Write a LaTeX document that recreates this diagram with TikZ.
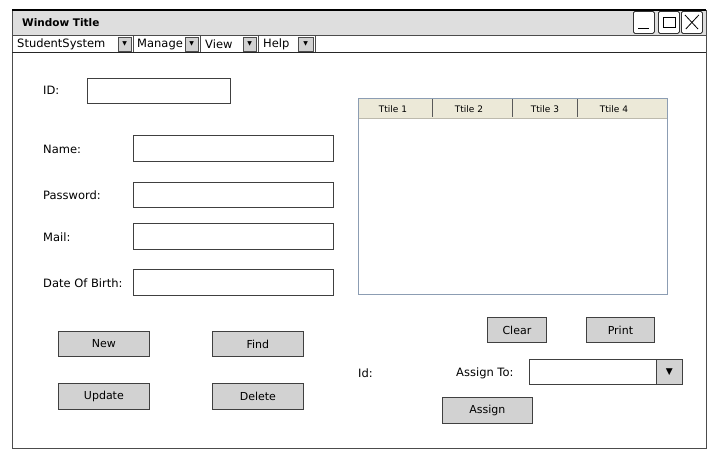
\documentclass[tikz,border=0pt]{standalone}
\usepackage{fontspec}
\setmainfont{DejaVu Sans}
\usetikzlibrary{positioning}
\usetikzlibrary{shapes}
\definecolor{barGray}{HTML}{DEDEDE}
\definecolor{btnGray}{HTML}{D2D2D2}
\definecolor{headBeige}{HTML}{ECE9D8}
\definecolor{gridBlue}{HTML}{8C9DB3}
\tikzset{
  field/.style={draw=black!75, thick, fill=white, anchor=north west, inner sep=0pt, minimum height=25pt},
  btnbox/.style={field, fill=btnGray, font=\fontsize{11}{13}\selectfont},
  arrowbox/.style={draw=black!70, fill=btnGray, anchor=north west, inner sep=0pt, minimum width=13pt, minimum height=14pt, font=\fontsize{6}{7}\selectfont},
  winbtn/.style={draw=black!80, thick, fill=white, rounded corners=1.5pt, anchor=north west, inner sep=0pt, minimum width=21pt, minimum height=22pt},
  fieldlbl/.style={anchor=west, inner sep=0pt, font=\fontsize{11.5}{13}\selectfont},
  coltitle/.style={inner sep=0pt, font=\fontsize{9}{10}\selectfont}
}

\begin{document}
\begin{tikzpicture}[x=1pt, y=-1pt]
\useasboundingbox (0,0) rectangle (715,459);
\begin{scope}
  \fill[white] (0,0) rectangle (715,459);
  \fill[barGray] (12,10) rectangle (706,35);
  \draw[thick, draw=black!70] (12,10) rectangle (706,448);
  \draw[very thick] (12,10) -- (706,10);
  \draw[black!70] (12,35) -- (706,35);
  \draw[black!85] (12,52) -- (706,52);
  \foreach \x in {133, 200, 258, 315}
    \draw[black!70] (\x,36) -- (\x,52);
\end{scope}

\begin{scope}
  \node[anchor=west, inner sep=0pt, font=\bfseries\fontsize{10.5}{12}\selectfont] (title) at (22,23) {Window Title};
  \node[winbtn] (minBtn) at (633,11) {};
  \node[winbtn] (maxBtn) at (658,11) {};
  \node[winbtn] (closeBtn) at (681,11) {};
  \draw[thick] (minBtn.south west) ++(5,-5) -- ++(11,0);
  \draw[thick] (maxBtn.center) ++(-6,-5) rectangle ++(12,10);
  \draw[thick] (closeBtn.north west) ++(4,4) -- ++(13,14);
  \draw[thick] (closeBtn.north east) ++(-4,4) -- ++(-13,14);
\end{scope}

\begin{scope}[every node/.style={anchor=west, inner sep=0pt, font=\fontsize{11.5}{13}\selectfont}]
  \node (menuStudent) at (17,44) {StudentSystem};
  \node (menuManage) at (137,44) {Manage};
  \node (menuView) at (205,44) {View};
  \node (menuHelp) at (263,44) {Help};
\end{scope}

\begin{scope}
  \node[arrowbox] (arrStudent) at (118,37) {▼};
  \node[arrowbox] (arrManage) at (185,37) {▼};
  \node[arrowbox] (arrView) at (243,37) {▼};
  \node[arrowbox, minimum width=15pt] (arrHelp) at (298,37) {▼};
\end{scope}

\begin{scope}
  \node[fieldlbl] (idLbl) at (43,90) {ID:};
  \node[fieldlbl] (nameLbl) at (43,149) {Name:};
  \node[fieldlbl] (passLbl) at (43,195) {Password:};
  \node[fieldlbl] (mailLbl) at (43,237) {Mail:};
  \node[fieldlbl] (birthLbl) at (43,283) {Date Of Birth:};
  \node[fieldlbl] (idSmallLbl) at (358,373) {Id:};
  \node[fieldlbl] (assignLbl) at (456,373) {Assign To:};
\end{scope}

\begin{scope}
  \node[field, minimum width=143pt] (idBox) at (87,78) {};
  \node[field, minimum width=200pt, minimum height=26pt] (nameBox) at (133,135) {};
  \node[field, minimum width=200pt] (passBox) at (133,182) {};
  \node[field, minimum width=200pt, minimum height=26pt] (mailBox) at (133,223) {};
  \node[field, minimum width=200pt, minimum height=26pt] (birthBox) at (133,269) {};
  \node[field, minimum width=153pt] (assignBox) at (529,359) {};
  \node[btnbox, minimum width=26pt, font=\fontsize{9}{10}\selectfont] (assignArr) at (656,359) {▼};
\end{scope}

\begin{scope}
  \node[draw=gridBlue, fill=white, anchor=north west, inner sep=0pt, minimum width=309pt, minimum height=196pt] (table) at (358,98) {};
  \node[fill=headBeige, anchor=north west, inner sep=0pt, minimum width=308pt, minimum height=19pt] (tableHead) at (358.5,98.5) {};
  \draw[headBeige!80!black] (tableHead.south west) -- (tableHead.south east);
  \foreach \x in {432, 512, 577}
    \draw[thick, black!65] (\x,99) -- (\x,117);
  \node[coltitle] (col1) at (393,109) {Ttile 1};
  \node[coltitle] (col2) at (469,109) {Ttile 2};
  \node[coltitle] (col3) at (545,109) {Ttile 3};
  \node[coltitle] (col4) at (614,109) {Ttile 4};
\end{scope}

\begin{scope}
  \node[btnbox, minimum width=91pt] (newBtn) at (58,331) {New};
  \node[btnbox, minimum width=91pt] (findBtn) at (212,331) {Find};
  \node[btnbox, minimum width=91pt, minimum height=26pt] (updateBtn) at (58,383) {Update};
  \node[btnbox, minimum width=91pt, minimum height=26pt] (deleteBtn) at (212,383) {Delete};
  \node[btnbox, minimum width=59pt] (clearBtn) at (487,317) {Clear};
  \node[btnbox, minimum width=68pt] (printBtn) at (586,317) {Print};
  \node[btnbox, minimum width=90pt, minimum height=26pt] (assignBtn) at (442,397) {Assign};
\end{scope}
\end{tikzpicture}
\end{document}
